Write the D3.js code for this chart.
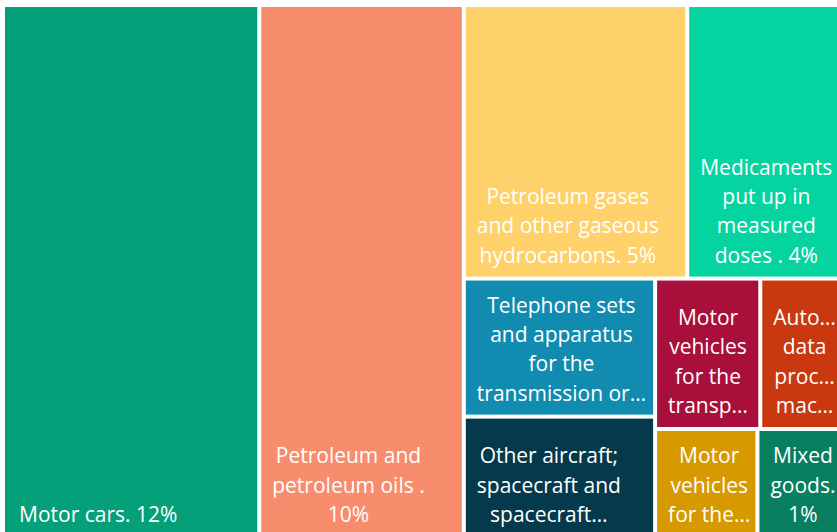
<!DOCTYPE html>
<html><head><meta charset="utf-8">
<script src="https://cdn.jsdelivr.net/npm/d3@7"></script>
<style>body{margin:0;background:#fff;overflow:hidden} svg{display:block}</style>
</head><body>
<svg id="chart" width="837" height="532"></svg>
<script>
// ---- data ----
const categories = [
  "Motor cars",
  "Petroleum and petroleum oils ",
  "Petroleum gases and other gaseous hydrocarbons",
  "Medicaments put up in measured doses ",
  "Telephone sets and apparatus for the transmission or reception of voice, images or other data",
  "Other aircraft; spacecraft and spacecraft launch vehicles",
  "Motor vehicles for the transport of goods",
  "Automatic data processing machines",
  "Motor vehicles for the transport of ten or more persons",
  "Mixed goods"
];
const shares = [12.0, 9.58, 5.37, 3.72, 2.32, 2.04, 1.39, 1.08, 0.98, 0.81]; // % of total exports
const palette = ["#05A079", "#F78D6D", "#FED16A", "#05D4A0", "#128BB0",
                 "#053A4C", "#A80F3A", "#C9380E", "#D69900", "#077F60"];

// ---- layout ----
const svg = d3.select("#chart");
const X0 = 5, Y0 = 7, W = 835, H = 529;
const FONT = "'Open Sans', 'Noto Sans', sans-serif";
const FS = 21, LH = 29.3;

const color = d3.scaleOrdinal().domain(categories).range(palette);
const fmtPct = v => d3.format(".0f")(v) + "%";

// strip groups used by the tiling (how many items go in each strip)
const strips = [1, 1, 2, 2, 2, 1, 1];
function stripTile(parent, x0, y0, x1, y1) {
  const nodes = parent.children;
  let i = 0, remaining = parent.value;
  for (const n of strips) {
    const kids = nodes.slice(i, i + n);
    if (!kids.length) break;
    const row = {children: kids, value: d3.sum(kids, d => d.value)};
    const dx = x1 - x0, dy = y1 - y0;
    if (dx >= dy) {
      const w = remaining ? dx * row.value / remaining : 0;
      d3.treemapSlice(row, x0, y0, x0 + w, y1);
      x0 += w;
    } else {
      const h = remaining ? dy * row.value / remaining : 0;
      d3.treemapDice(row, x0, y0, x1, y0 + h);
      y0 += h;
    }
    remaining -= row.value;
    i += n;
  }
}

const root = d3.hierarchy({children: categories.map((c, i) => ({name: c, value: shares[i]}))})
  .sum(d => d.value || 0)
  .sort((a, b) => b.value - a.value);

d3.treemap().size([W, H]).paddingInner(4).tile(stripTile)(root);

const g = svg.append("g").attr("transform", `translate(${X0},${Y0})`);

// text measurer
const meas = svg.append("text").attr("font-family", FONT).attr("font-size", FS).attr("visibility", "hidden");
const tw = s => { meas.text(s); return meas.node().getComputedTextLength(); };
const ELL = "…";
function fitWord(word, maxW) {
  if (tw(word) <= maxW) return word;
  let s = word;
  while (s.length > 1 && tw(s + ELL) > maxW) s = s.slice(0, -1);
  return s + ELL;
}
function wrap(text, maxW, maxLines) {
  const words = text.split(/\s+/).filter(Boolean);
  const lines = [];
  let cur = "";
  let k = 0;
  for (; k < words.length; k++) {
    const w = words[k];
    const test = cur ? cur + " " + w : w;
    if (tw(test) <= maxW) { cur = test; continue; }
    if (cur) {
      lines.push(cur);
      if (lines.length === maxLines) { cur = null; break; }
    }
    cur = fitWord(w, maxW);
  }
  if (cur !== null) { if (cur) lines.push(cur); k = words.length; }
  if (k < words.length && lines.length) {
    const last = lines[lines.length - 1];
    if (!last.endsWith(ELL)) lines[lines.length - 1] = last.replace(/\s+$/, "") + ELL;
  }
  return lines;
}

const cell = g.selectAll("g.cell").data(root.leaves()).join("g").attr("class", "cell");
cell.append("rect")
  .attr("x", d => d.x0).attr("y", d => d.y0)
  .attr("width", d => d.x1 - d.x0).attr("height", d => d.y1 - d.y0)
  .attr("fill", d => color(d.data.name));

cell.each(function(d) {
  const w = d.x1 - d.x0, h = d.y1 - d.y0;
  const label = d.data.name + ". " + fmtPct(d.data.value);
  const maxLines = Math.max(1, Math.floor((h - 8) / LH));
  const lines = wrap(label, w * 0.9, maxLines);
  const blockW = d3.max(lines, tw);
  const cx = d.x0 + (d.x0 < 1 ? 14 : 11) + blockW / 2;
  const t = d3.select(this).append("text")
    .attr("font-family", FONT).attr("font-size", FS).attr("fill", "#fff")
    .attr("text-anchor", "middle");
  lines.forEach((ln, i) => {
    t.append("tspan").attr("x", cx)
      .attr("y", d.y1 - 14 - (lines.length - 1 - i) * LH)
      .text(ln);
  });
});
meas.remove();
</script>
</body></html>
